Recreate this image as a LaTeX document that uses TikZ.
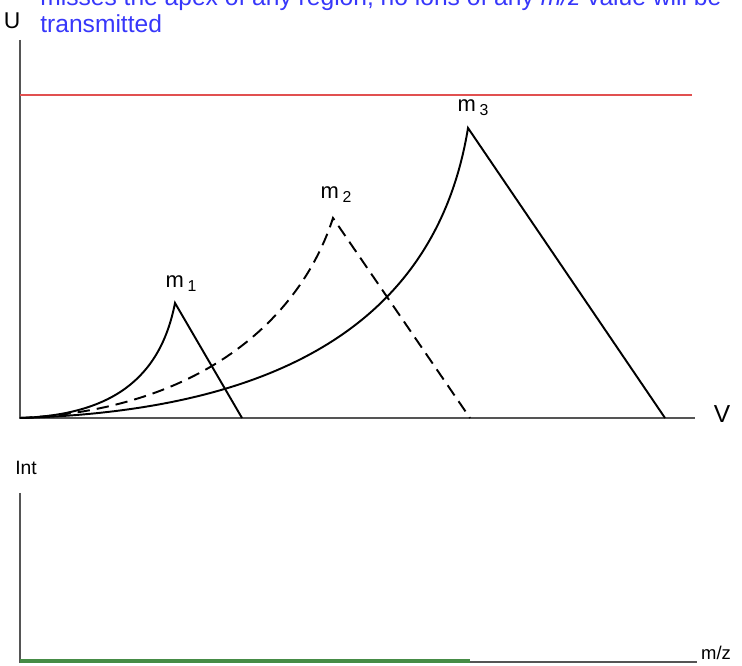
\documentclass[tikz,border=0pt]{standalone}
\usepackage{fontspec}
\setmainfont{Liberation Sans}
\usepackage{xcolor}
\definecolor{axisgray}{RGB}{85,85,85}
\definecolor{capred}{RGB}{225,80,80}
\definecolor{textblue}{RGB}{55,55,250}
\definecolor{intgreen}{RGB}{70,140,70}

\begin{document}
\begin{tikzpicture}[x=0.02cm,y=0.02cm,
    axis/.style={draw=axisgray,line width=1.5pt},
    peak/.style={line width=1.1pt},
    lbl/.style={inner sep=0pt,font=\fontsize{12.5}{14}\selectfont}]
      \useasboundingbox (0,0) rectangle (742,665);
      % upper panel: stability diagram
      \coordinate (O) at (20,247);
      \coordinate (Utop) at (20,625);
      \coordinate (Vend) at (695,247);
      \draw [axis] (Utop) to (O) to (Vend);
      \node [lbl,font=\fontsize{13}{14}\selectfont] (U) at (12,644) {U};
      \node [lbl,font=\fontsize{14}{16}\selectfont] (V) at (722,251) {V};
      \coordinate (RL) at (20,570);
      \coordinate (RR) at (692,570);
      \draw [draw=capred,line width=1.5pt] (RL) to (RR);
      % peaks
      \coordinate (A1) at (175,362);
      \coordinate (B1) at (242,247);
      \coordinate (A2) at (333,447);
      \coordinate (B2) at (470,247);
      \coordinate (A3) at (468,537);
      \coordinate (B3) at (665,247);
      \draw [peak] (O) .. controls (110,250) and (160,285) .. (A1) to (B1);
      \draw [peak,dashed,dash pattern=on 7pt off 4pt] (O) .. controls (200,255) and (300,345) .. (A2) to (B2);
      \draw [peak] (O) .. controls (310,255) and (440,365) .. (A3) to (B3);
      \node [lbl] (M1) at (181,381) {m\,\raisebox{-0.35ex}{\small 1}};
      \node [lbl] (M2) at (336,470) {m\,\raisebox{-0.35ex}{\small 2}};
      \node [lbl] (M3) at (473,557) {m\,\raisebox{-0.35ex}{\small 3}};
      % caption text, cut at the top
      \node [anchor=base west,inner sep=0pt,text=textblue,font=\fontsize{14}{17}\selectfont] (T1) at (40,659) {misses the apex of any region, no ions of any \textit{m/z} value will be};
      \node [anchor=base west,inner sep=0pt,text=textblue,font=\fontsize{14}{17}\selectfont] (T2) at (40,632) {transmitted};
      % lower panel: spectrum
      \coordinate (P) at (20,3);
      \coordinate (Itop) at (20,172);
      \coordinate (Mend) at (697,3);
      \draw [axis] (Itop) to (P) to (Mend);
      \node [lbl,font=\fontsize{11}{12}\selectfont] (I) at (26,197) {Int};
      \node [lbl,font=\fontsize{10.5}{12}\selectfont] (MZ) at (716,12) {m/z};
      \coordinate (G0) at (20,4);
      \coordinate (G) at (470,4);
      \draw [draw=intgreen,line width=2pt] (G0) to (G);
    \end{tikzpicture}
\end{document}
